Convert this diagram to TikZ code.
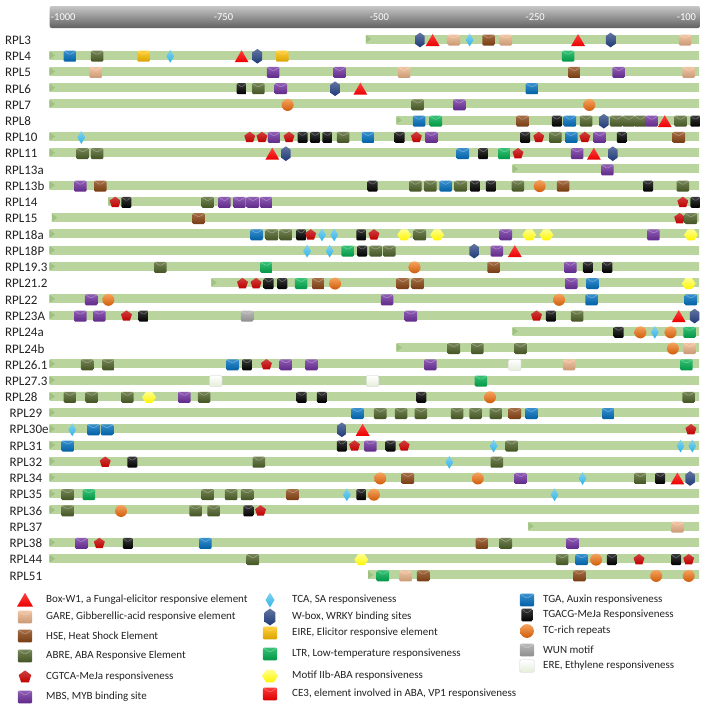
\documentclass[tikz,border=0pt]{standalone}
\usepackage{fontspec}
\setmainfont{Carlito}
\usetikzlibrary{shapes.geometric,shapes.symbols}
\definecolor{boxwC}{HTML}{FF0000}
\definecolor{gareC}{HTML}{EDB489}
\definecolor{hseC}{HTML}{8B4513}
\definecolor{abreC}{HTML}{4F6228}
\definecolor{cgtcaC}{HTML}{C00000}
\definecolor{mbsC}{HTML}{7030A0}
\definecolor{tcaC}{HTML}{31B4E6}
\definecolor{wboxC}{HTML}{1F3A78}
\definecolor{eireC}{HTML}{FFC000}
\definecolor{ltrC}{HTML}{00B050}
\definecolor{motifC}{HTML}{FFFF00}
\definecolor{ceC}{HTML}{FF0000}
\definecolor{tgaC}{HTML}{0070C0}
\definecolor{tgacgC}{HTML}{000000}
\definecolor{tcTop}{HTML}{F6A35E}
\definecolor{tcBot}{HTML}{CF5C0A}
\definecolor{wunC}{HTML}{A6A6A6}
\definecolor{ereC}{HTML}{E4EEDA}
\definecolor{ereDark}{HTML}{B9D59D}
\definecolor{ereLight}{HTML}{EAF4E1}
\definecolor{ereEdge}{HTML}{9FC283}
\definecolor{ink}{HTML}{222222}
% one promoter row: [label x]{index}{name}{bar start}{symbol/position list}
\newcommand{\generow}[5][11]{%
  \pgfmathsetmacro{\ry}{39+16.24*#2}
  \node[rowlabel] (lab#2) at (#1,\ry+1) {#3};
  \shade[erebar] (#4,\ry-4) rectangle (1548,\ry+4);
  \fill[ereEdge] (#4,\ry-4) -- ++(12,4) -- ++(-12,4) -- cycle;
  \foreach \t/\x in {#5} \node[\t] (s#2-\x) at (\x,\ry+1) {};
}

\begin{document}
\begin{tikzpicture}[
    x=1pt, y=-1pt,
    every node/.style={text=ink},
    rowlabel/.style={anchor=west, inner sep=0pt, font=\fontsize{13}{15}\selectfont},
    axislab/.style={font=\fontsize{10.5}{12}\selectfont, text=white},
    legtext/.style={anchor=west, inner sep=0pt, font=\fontsize{11}{13}\selectfont},
    erebar/.style={top color=ereDark, middle color=ereLight, bottom color=ereDark},
    axisbar/.style={rounded corners=2pt, top color=black!22, bottom color=black!62},
    flap/.style={path picture={\draw[white, opacity=.35, line width=.5pt]
        (path picture bounding box.north west) -- ([yshift=-4pt]path picture bounding box.north)
        -- (path picture bounding box.north east);}},
    sq/.style={rectangle, rounded corners=1.2pt, minimum width=12.5pt, minimum height=11pt,
        inner sep=0pt, top color=#1!78!white, bottom color=#1!85!black, flap},
    gare/.style={sq=gareC},
    hse/.style={sq=hseC},
    abre/.style={sq=abreC},
    mbs/.style={sq=mbsC},
    eire/.style={sq=eireC},
    ltr/.style={sq=ltrC},
    ce3/.style={sq=ceC},
    tga/.style={sq=tgaC},
    tgacg/.style={sq=tgacgC, minimum width=10pt},
    wun/.style={sq=wunC},
    ere/.style={rectangle, rounded corners=1.2pt, minimum width=12.5pt, minimum height=11pt,
        inner sep=0pt, top color=white, bottom color=ereC, draw=black!20, line width=.3pt},
    boxw/.style={regular polygon, regular polygon sides=3, minimum size=16pt, inner sep=0pt,
        top color=boxwC!75!white, bottom color=boxwC!92!black, yshift=-2pt},
    cgtca/.style={regular polygon, regular polygon sides=5, minimum size=11.5pt, inner sep=0pt,
        top color=cgtcaC!75!white, bottom color=cgtcaC},
    tca/.style={diamond, minimum width=8pt, minimum height=13pt, inner sep=0pt,
        top color=tcaC!60!white, bottom color=tcaC},
    wbox/.style={signal, signal to=north and south, signal pointer angle=110,
        minimum width=9.5pt, minimum height=8pt, inner sep=0pt,
        top color=wboxC!70!white, bottom color=wboxC},
    motif/.style={signal, signal to=east and west, signal pointer angle=110,
        minimum width=14pt, minimum height=11pt, inner sep=0pt,
        top color=motifC!45!white, bottom color=motifC!92!orange},
    tc/.style={circle, minimum size=12pt, inner sep=0pt, top color=tcTop, bottom color=tcBot},
]
\useasboundingbox (0,0) rectangle (708,710);

% --- position axis ---
\begin{scope}[x=0.4516pt]
\shade[axisbar] (110,6) rectangle (1550,28);
\node[axislab] (t1000) at (140,17) {-1000};
\node[axislab] (t750) at (495,17) {-750};
\node[axislab] (t500) at (840,17) {-500};
\node[axislab] (t250) at (1185,17) {-250};
\node[axislab] (t100) at (1520,17) {-100};

% --- promoter rows ---
\generow{0}{RPL3}{810}{wbox/930, boxw/958, gare/1005, tca/1040, hse/1082, gare/1120, boxw/1280, wbox/1352, gare/1517}
\generow{1}{RPL4}{110}{tga/155, abre/215, eire/318, tca/377, boxw/535, wbox/570, eire/625, ltr/1258}
\generow{2}{RPL5}{110}{gare/212, mbs/605, mbs/752, gare/895, hse/1272, mbs/1370, gare/1525}
\generow{3}{RPL6}{110}{tgacg/535, abre/572, mbs/622, wbox/742, boxw/798, tga/1178}
\generow{4}{RPL7}{110}{tc/637, abre/925, mbs/1017, tc/1305}
\generow{5}{RPL8}{878}{tga/928, ltr/965, hse/1157, tgacg/1233, tga/1262, abre/1298, wbox/1337, abre/1365, abre/1392, abre/1418, mbs/1443, boxw/1472, abre/1507, tgacg/1540}
\generow{6}{RPL10}{110}{tca/180, cgtca/553, cgtca/580, mbs/607, cgtca/640, tgacg/670, tgacg/698, tgacg/725, abre/760, tga/815, tgacg/885, cgtca/922, mbs/955, tgacg/1163, cgtca/1193, abre/1230, tga/1265, cgtca/1295, mbs/1328, tgacg/1377, hse/1503}
\generow{7}{RPL11}{110}{abre/183, abre/215, boxw/603, wbox/633, tga/1025, tgacg/1070, ltr/1117, cgtca/1147, mbs/1278, boxw/1315, wbox/1357}
\generow{8}{RPL13a}{1135}{mbs/1345}
\generow{9}{RPL13b}{110}{mbs/178, hse/222, tgacg/825, abre/920, abre/953, tga/987, abre/1020, tgacg/1052, tgacg/1087, abre/1147, tc/1195, hse/1247, tgacg/1435, abre/1512}
\generow{10}{RPL14}{240}{cgtca/255, tgacg/280, abre/460, mbs/497, mbs/530, mbs/560, mbs/590, cgtca/1512, tgacg/1540}
\generow{11}{RPL15}{115}{hse/440, cgtca/1505, abre/1530}
\generow{12}{RPL18a}{110}{tga/568, abre/602, abre/633, tgacg/667, cgtca/688, tca/713, tca/740, tgacg/800, cgtca/828, motif/895, abre/930, motif/968, mbs/1120, motif/1172, motif/1210, mbs/1447, motif/1530}
\generow{13}{RPL18P}{110}{tca/680, tca/730, ltr/770, tgacg/802, abre/832, abre/862, wbox/1050, mbs/1100, boxw/1140}
\generow{14}{RPL19.3}{110}{abre/355, ltr/590, tc/918, hse/1093, mbs/1263, tgacg/1302, tgacg/1345}
\generow{15}{RPL21.2}{468}{cgtca/537, cgtca/567, tgacg/595, tgacg/625, ltr/667, hse/705, tc/742, hse/892, hse/925, mbs/1265, tga/1312, motif/1525}
\generow{16}{RPL22}{110}{mbs/202, tc/240, mbs/857, tc/1238, tga/1310, tga/1530}
\generow{17}{RPL23A}{110}{mbs/178, mbs/220, cgtca/280, tgacg/318, wun/547, mbs/910, cgtca/1188, tgacg/1220, abre/1278, boxw/1503, wbox/1538}
\generow{18}{RPL24a}{1135}{tgacg/1370, tc/1418, tca/1450, tc/1485, ltr/1527}
\generow{19}{RPL24b}{878}{abre/1005, abre/1057, abre/1153, tc/1490, gare/1527}
\generow{20}{RPL26.1}{110}{abre/193, abre/240, tga/515, tgacg/547, cgtca/590, mbs/633, mbs/690, mbs/953, ere/1140, gare/1260, ltr/1520}
\generow{21}{RPL27.3}{110}{ere/478, ere/825, ltr/1065}
\generow{22}{RPL28}{110}{abre/155, abre/203, abre/282, motif/330, mbs/408, abre/452, tgacg/668, tgacg/713, tgacg/933, tc/1085, abre/1525}
\generow[21]{23}{RPL29}{110}{tga/792, abre/842, abre/888, abre/932, abre/1012, abre/1053, abre/1098, hse/1140, tga/1177, tga/1347}
\generow[21]{24}{RPL30e}{110}{tca/160, tga/207, tga/237, wbox/757, boxw/803, cgtca/1530}
\generow[21]{25}{RPL31}{110}{tga/150, tgacg/757, cgtca/785, mbs/820, tgacg/865, cgtca/895, tca/1093, abre/1133, tca/1507, tca/1533}
\generow[21]{26}{RPL32}{110}{cgtca/233, tgacg/293, abre/573, tca/995, abre/1100}
\generow[21]{27}{RPL34}{110}{tc/842, hse/903, tc/1058, mbs/1153, tca/1290, abre/1418, tgacg/1462, boxw/1500, wbox/1528}
\generow[21]{28}{RPL35}{110}{abre/150, ltr/197, abre/460, abre/512, abre/547, hse/648, tca/768, tgacg/800, tc/828, tca/1228}
\generow[21]{29}{RPL36}{110}{abre/150, tc/268, abre/433, abre/473, tgacg/550, cgtca/577}
\generow[21]{30}{RPL37}{1170}{gare/1500}
\generow[21]{31}{RPL38}{110}{mbs/180, cgtca/220, tgacg/283, tga/455, hse/1067, abre/1120, mbs/1268}
\generow[21]{32}{RPL44}{110}{abre/560, motif/800, abre/1245, tga/1288, tc/1320, tgacg/1355, cgtca/1415, tgacg/1497, cgtca/1525}
\generow[21]{33}{RPL51}{815}{ltr/848, gare/898, hse/937, hse/1283, tc/1453, tc/1525}
\end{scope}

% --- legend ---
\foreach \s/\y/\txt [count=\k] in {
    boxw/600/{Box-W1, a Fungal-elicitor responsive element},
    gare/617/{GARE, Gibberellic-acid responsive element},
    hse/636/{HSE, Heat Shock Element},
    abre/656/{ABRE, ABA Responsive Element},
    cgtca/677/{CGTCA-MeJa responsiveness},
    mbs/697/{MBS, MYB binding site}}
{
  \node[\s, scale=1.15] (la\k) at (25,\y) {};
  \node[legtext] (lta\k) at (46,\y) {\txt};
}
\foreach \s/\y/\txt [count=\k] in {
    tca/600/{TCA, SA responsiveness},
    wbox/617/{W-box, WRKY binding sites},
    eire/633/{EIRE, Elicitor responsive element},
    ltr/654/{LTR, Low-temperature responsiveness},
    motif/676/{Motif IIb-ABA responsiveness},
    ce3/694/{CE3, element involved in ABA, VP1 responsiveness}}
{
  \node[\s, scale=1.15] (lb\k) at (270,\y) {};
  \node[legtext] (ltb\k) at (292,\y) {\txt};
}
\foreach \s/\y/\txt [count=\k] in {
    tga/600/{TGA, Auxin responsiveness},
    tgacg/615/{TGACG-MeJa Responsiveness},
    tc/631/{TC-rich repeats},
    wun/650/{WUN motif},
    ere/666/{ERE, Ethylene responsiveness}}
{
  \node[\s, scale=1.15] (lc\k) at (527,\y) {};
  \node[legtext] (ltc\k) at (543,\y) {\txt};
}
\end{tikzpicture}
\end{document}
